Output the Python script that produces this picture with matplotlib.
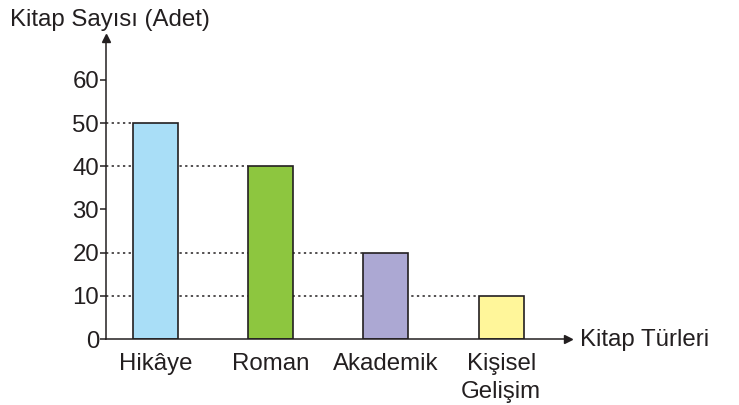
import numpy as np
import matplotlib.pyplot as plt

plt.rcParams['font.family'] = ['Liberation Sans', 'DejaVu Sans']

# data
categories = ['Hikâye', 'Roman', 'Akademik', 'Kişisel\nGelişim']
counts = [50, 40, 20, 10]
colors = ['#a9def7', '#8dc63f', '#aca8d3', '#fff69a']
yticks = [0, 10, 20, 30, 40, 50, 60]

ink = '#231f20'
W, H = 739, 405
fs = 17.3

fig = plt.figure(figsize=(W / 100, H / 100), dpi=100)
# axes box placed in pixels: y axis at x=106, baseline at y=339, top arrow at y=38
ax = fig.add_axes([106 / W, 1 - 339 / H, (568 - 106) / W, (339 - 38) / H])

x = np.arange(len(categories))
bw = 0.39
ax.set_xlim(-0.43, 3.58)
ax.set_ylim(0, 69.7)

# dotted guides from the y axis to each bar
ax.hlines(counts, -0.43, x - bw / 2, colors=ink, linestyles=(0, (1.5, 2.2)),
          linewidth=1.1, zorder=1)
ax.bar(x, counts, width=bw, color=colors, edgecolor=ink, linewidth=1.2,
       zorder=2)

for s in ['top', 'right']:
    ax.spines[s].set_visible(False)
for s in ['left', 'bottom']:
    ax.spines[s].set_color(ink)
    ax.spines[s].set_linewidth(1.1)
    ax.spines[s].set_zorder(3)

ax.plot(1, 0, '>', color=ink, ms=6, transform=ax.transAxes, clip_on=False)
ax.plot(0, 1, '^', color=ink, ms=6, transform=ax.transAxes, clip_on=False)

ax.set_yticks(yticks)
ax.tick_params(axis='y', direction='out', length=4, width=1.1, colors=ink,
               labelsize=fs, pad=1)
ax.set_xticks(x)
ax.set_xticklabels(categories, linespacing=1.35)
ax.tick_params(axis='x', length=0, colors=ink, labelsize=fs, pad=10)

fig.text(10 / W, 1 - 20 / H, 'Kitap Sayısı (Adet)', fontsize=fs, color=ink,
         va='center', ha='left')
fig.text(580 / W, 1 - 340 / H, 'Kitap Türleri', fontsize=fs, color=ink,
         va='center', ha='left')

fig.savefig('out.png', dpi=100)
